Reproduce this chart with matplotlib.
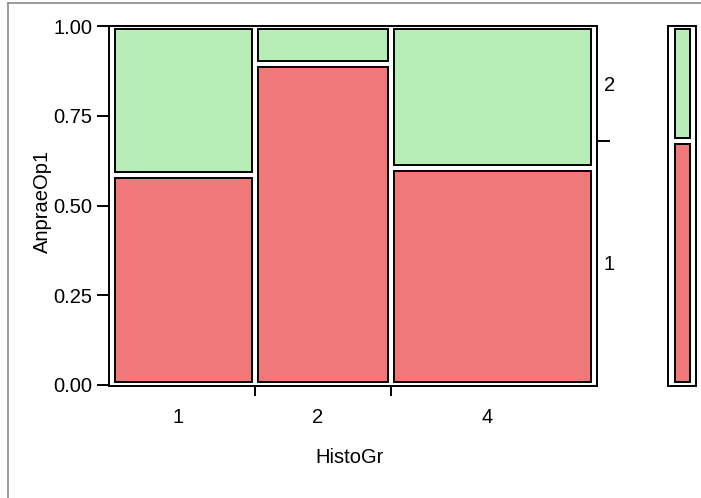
import matplotlib
matplotlib.use('Agg')
import matplotlib.pyplot as plt
from matplotlib.patches import Rectangle
from matplotlib.lines import Line2D

plt.rcParams['font.family'] = ['Liberation Sans', 'DejaVu Sans']

# data: HistoGr groups, share of rows in each group, share of AnpraeOp1 == 1
groups = ['1', '2', '4']
group_share = [0.297, 0.282, 0.421]
share_level1 = [0.584, 0.895, 0.605]
levels = ['1', '2']

red = '#f17878'
green = '#b8edb8'
fs = 14.5
W, H = 701, 498

fig = plt.figure(figsize=(W / 100, H / 100), dpi=100)

# main mosaic axes (pixel layout from the reference)
ax = fig.add_axes([109 / W, 1 - 386 / H, (597 - 109) / W, (386 - 26) / H])
px_x, px_y = 482, 359
ax.set_xlim(-3 / px_x, 1 + 3 / px_x)
ax.set_ylim(-1 / px_y, 1)
ix, iy = 3 / px_x, 3 / px_y

cum = [0]
for s in group_share:
    cum.append(cum[-1] + s)

for i in range(len(groups)):
    x0, x1 = cum[i], cum[i + 1]
    f = share_level1[i]
    ax.add_patch(Rectangle((x0 + ix, iy), x1 - x0 - 2 * ix, f - 2 * iy,
                           facecolor=red, edgecolor='black', linewidth=1.4))
    ax.add_patch(Rectangle((x0 + ix, f + iy), x1 - x0 - 2 * ix, 1 - f - 2 * iy,
                           facecolor=green, edgecolor='black', linewidth=1.4))

for sp in ax.spines.values():
    sp.set_linewidth(1.4)

ax.set_yticks([0, 0.25, 0.5, 0.75, 1.0])
ax.set_yticklabels(['0.00', '0.25', '0.50', '0.75', '1.00'])
ax.tick_params(axis='y', length=9, width=1.4, pad=3, labelsize=fs)

ax.set_xticks(cum[1:-1])
ax.set_xticklabels([])
ax.tick_params(axis='x', which='major', length=7, width=1.4)
centers = [(cum[i] + cum[i + 1]) / 2 - 0.012 for i in range(len(groups))]
ax.set_xticks(centers, minor=True)
ax.set_xticklabels(groups, minor=True)
ax.tick_params(axis='x', which='minor', length=0, pad=16, labelsize=fs)

# overall share on the right
marginal = sum(s * f for s, f in zip(group_share, share_level1))
ax2 = ax.twinx()
ax2.set_ylim(ax.get_ylim())
ax2.set_yticks([marginal])
ax2.set_yticklabels([])
ax2.tick_params(axis='y', which='major', length=9, width=1.4)
ax2.set_yticks([marginal / 2, (1 + marginal) / 2], minor=True)
ax2.set_yticklabels(levels, minor=True)
ax2.tick_params(axis='y', which='minor', length=0, pad=5, labelsize=fs)
for sp in ax2.spines.values():
    sp.set_visible(False)

# marginal bar
ax3 = fig.add_axes([668 / W, 1 - 386 / H, 28 / W, (386 - 26) / H])
ax3.set_xlim(0, 28)
ax3.set_ylim(ax.get_ylim())
ax3.add_patch(Rectangle((7, iy), 15, marginal - 2 * iy,
                        facecolor=red, edgecolor='black', linewidth=1.4))
ax3.add_patch(Rectangle((7, marginal + iy), 15, 1 - marginal - 2 * iy,
                        facecolor=green, edgecolor='black', linewidth=1.4))
ax3.set_xticks([])
ax3.set_yticks([])
for sp in ax3.spines.values():
    sp.set_linewidth(1.4)

fig.text(42 / W, 1 - 201 / H, 'AnpraeOp1', rotation=90, ha='center', va='center', fontsize=fs)
fig.text(350 / W, 1 - 457 / H, 'HistoGr', ha='center', va='center', fontsize=fs)

# grey frame of the report panel
fig.add_artist(Line2D([8 / W, 8 / W], [0, 1 - 3 / H], color='#8a8a8a', linewidth=1.2))
fig.add_artist(Line2D([8 / W, 1], [1 - 3 / H, 1 - 3 / H], color='#8a8a8a', linewidth=1.2))

fig.savefig('out.png', dpi=100)
